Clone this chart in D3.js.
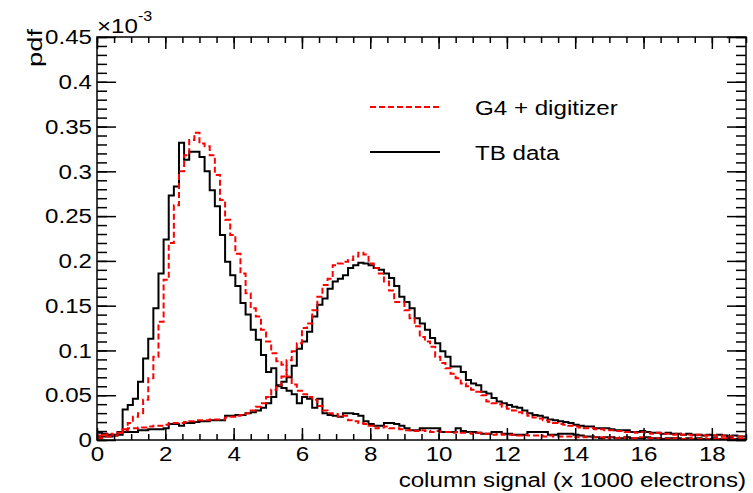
<!DOCTYPE html>
<html>
<head>
<meta charset="utf-8">
<script src="https://cdn.jsdelivr.net/npm/d3@7"></script>
<style>
  body { margin: 0; background: #fff; }
  svg { display: block; }
  text { font-family: "Liberation Sans", Arial, Helvetica, sans-serif; fill: #000; }
</style>
</head>
<body>
<div id="chart"></div>
<script>
// histogram bins: width 0.15 (x 1000 electrons), starting at 0
const binWidth = 0.15;

// TB data, first peak (pdf, x 1e-3)
const tbPeak1 = [
  0.008, 0.007, 0.006, 0.006, 0.009, 0.034, 0.039, 0.046, 0.065, 0.091,
  0.113, 0.147, 0.186, 0.224, 0.273, 0.283, 0.332, 0.313, 0.322, 0.322,
  0.316, 0.300, 0.279, 0.261, 0.229, 0.199, 0.184, 0.172, 0.153, 0.140,
  0.123, 0.112, 0.095, 0.076, 0.080, 0.061, 0.058, 0.055, 0.051, 0.041,
  0.048, 0.046, 0.036, 0.046, 0.030, 0.028, 0.027, 0.026, 0.030, 0.030,
  0.029, 0.027, 0.021, 0.018, 0.016, 0.016, 0.019, 0.019, 0.018, 0.016,
  0.013, 0.011, 0.011, 0.013, 0.013, 0.013, 0.013, 0.009, 0.009, 0.009,
  0.013, 0.010, 0.009, 0.009, 0.008, 0.007, 0.007, 0.009, 0.009, 0.007,
  0.007, 0.006, 0.006, 0.006, 0.009, 0.009, 0.009, 0.009, 0.006, 0.006,
  0.007, 0.007, 0.007, 0.006, 0.005, 0.004, 0.004, 0.003, 0.002, 0.003,
  0.003, 0.002, 0.002, 0.003, 0.002, 0.002, 0.002, 0.003, 0.002, 0.002,
  0.001, 0.002, 0.002, 0.002, 0.001, 0.002, 0.001, 0.002, 0.001, 0.001,
  0.002, 0.001, 0.001, 0.002, 0.001, 0.001, 0.001
];

// TB data, second peak
const tbPeak2 = [
  0.003, 0.004, 0.004, 0.005, 0.006, 0.009, 0.009, 0.009, 0.011, 0.011,
  0.012, 0.012, 0.012, 0.013, 0.018, 0.018, 0.016, 0.019, 0.019, 0.020,
  0.021, 0.021, 0.022, 0.022, 0.022, 0.027, 0.027, 0.028, 0.028, 0.030,
  0.031, 0.033, 0.036, 0.041, 0.048, 0.060, 0.065, 0.070, 0.083, 0.102,
  0.110, 0.121, 0.138, 0.151, 0.158, 0.169, 0.177, 0.180, 0.184, 0.192,
  0.195, 0.198, 0.197, 0.195, 0.192, 0.190, 0.186, 0.181, 0.172, 0.160,
  0.154, 0.147, 0.136, 0.130, 0.123, 0.114, 0.108, 0.099, 0.093, 0.082,
  0.082, 0.076, 0.067, 0.063, 0.061, 0.054, 0.052, 0.047, 0.043, 0.041,
  0.039, 0.037, 0.036, 0.033, 0.030, 0.028, 0.027, 0.025, 0.023, 0.022,
  0.021, 0.020, 0.019, 0.017, 0.016, 0.015, 0.015, 0.013, 0.013, 0.013,
  0.012, 0.011, 0.011, 0.011, 0.009, 0.009, 0.010, 0.009, 0.008, 0.008,
  0.007, 0.008, 0.007, 0.007, 0.006, 0.007, 0.006, 0.006, 0.005, 0.006,
  0.005, 0.006, 0.005, 0.004, 0.005, 0.004, 0.004
];

// G4 + digitizer, first peak
const g4Peak1 = [
  0.002, 0.006, 0.007, 0.006, 0.008, 0.012, 0.019, 0.026, 0.030, 0.045,
  0.069, 0.093, 0.132, 0.179, 0.220, 0.262, 0.300, 0.318, 0.335, 0.343,
  0.331, 0.328, 0.318, 0.296, 0.268, 0.246, 0.229, 0.208, 0.186, 0.164,
  0.147, 0.138, 0.123, 0.110, 0.097, 0.088, 0.084, 0.071, 0.062, 0.055,
  0.051, 0.048, 0.045, 0.038, 0.033, 0.030, 0.029, 0.026, 0.027, 0.022,
  0.021, 0.019, 0.018, 0.016, 0.013, 0.014, 0.015, 0.013, 0.013, 0.012,
  0.011, 0.011, 0.010, 0.011, 0.010, 0.009, 0.010, 0.009, 0.009, 0.008,
  0.009, 0.008, 0.008, 0.007, 0.008, 0.007, 0.007, 0.006, 0.007, 0.006,
  0.006, 0.006, 0.005, 0.006, 0.005, 0.005, 0.005, 0.004, 0.005, 0.004,
  0.004, 0.004, 0.004, 0.003, 0.004, 0.003, 0.003, 0.003, 0.003, 0.002,
  0.003, 0.002, 0.003, 0.002, 0.002, 0.002, 0.003, 0.002, 0.002, 0.002,
  0.002, 0.001, 0.002, 0.002, 0.001, 0.002, 0.001, 0.001, 0.002, 0.001,
  0.001, 0.001, 0.002, 0.001, 0.001, 0.001, 0.001
];

// G4 + digitizer, second peak
const g4Peak2 = [
  0.005, 0.004, 0.004, 0.005, 0.008, 0.011, 0.013, 0.013, 0.014, 0.014,
  0.015, 0.016, 0.016, 0.017, 0.019, 0.019, 0.019, 0.020, 0.021, 0.022,
  0.022, 0.022, 0.023, 0.023, 0.023, 0.025, 0.026, 0.027, 0.028, 0.030,
  0.033, 0.037, 0.041, 0.048, 0.056, 0.061, 0.071, 0.089, 0.099, 0.108,
  0.125, 0.130, 0.145, 0.160, 0.173, 0.180, 0.195, 0.197, 0.199, 0.201,
  0.205, 0.209, 0.207, 0.197, 0.192, 0.186, 0.177, 0.167, 0.154, 0.154,
  0.145, 0.136, 0.127, 0.115, 0.110, 0.104, 0.093, 0.086, 0.080, 0.074,
  0.069, 0.063, 0.060, 0.056, 0.054, 0.050, 0.043, 0.041, 0.040, 0.037,
  0.035, 0.033, 0.031, 0.030, 0.027, 0.025, 0.024, 0.022, 0.020, 0.019,
  0.018, 0.017, 0.016, 0.015, 0.014, 0.013, 0.013, 0.012, 0.012, 0.011,
  0.011, 0.010, 0.010, 0.009, 0.009, 0.008, 0.009, 0.008, 0.007, 0.008,
  0.007, 0.007, 0.006, 0.007, 0.006, 0.006, 0.005, 0.006, 0.005, 0.005,
  0.005, 0.004, 0.005, 0.004, 0.004, 0.004, 0.004
];

const xMajor = [0, 2, 4, 6, 8, 10, 12, 14, 16, 18];
const yMajor = [0, 0.05, 0.1, 0.15, 0.2, 0.25, 0.3, 0.35, 0.4, 0.45];

const legendItems = [
  { label: "G4 + digitizer", color: "#ff0000", dash: "6,3" },
  { label: "TB data", color: "#000", dash: null }
];

const W = 753, H = 493;
const frame = { left: 97, right: 746, top: 37, bottom: 440 };
const stretch = 1.15; // text in the original is a bit wide

const x = d3.scaleLinear().domain([0, 19]).range([frame.left, frame.right]);
const y = d3.scaleLinear().domain([0, 0.45]).range([frame.bottom, frame.top]);

const svg = d3.select("#chart").append("svg")
  .attr("width", W)
  .attr("height", H);

svg.append("defs").append("clipPath")
  .attr("id", "plotclip")
  .append("rect")
  .attr("x", frame.left)
  .attr("y", frame.top)
  .attr("width", frame.right - frame.left)
  .attr("height", frame.bottom - frame.top);

// histograms drawn as step outlines
function histPath(vals) {
  const pts = vals.map((v, i) => [i * binWidth, v]);
  pts.push([vals.length * binWidth, vals[vals.length - 1]]);
  return d3.line()
    .x(d => x(d[0]))
    .y(d => y(d[1]))
    .curve(d3.curveStepAfter)(pts);
}

const plot = svg.append("g").attr("clip-path", "url(#plotclip)");

[tbPeak1, tbPeak2].forEach(vals => {
  plot.append("path")
    .attr("d", histPath(vals))
    .attr("fill", "none")
    .attr("stroke", "#000")
    .attr("stroke-width", 2);
});

[g4Peak1, g4Peak2].forEach(vals => {
  plot.append("path")
    .attr("d", histPath(vals))
    .attr("fill", "none")
    .attr("stroke", "#ff0000")
    .attr("stroke-width", 2)
    .attr("stroke-dasharray", "6,3");
});

// axes, ROOT style: ticks inside on all four sides
const xMinor = d3.range(0, 19.01, 0.5);
const yMinor = d3.range(0, 46).map(i => i / 100);

function styleAxis(g) {
  g.select(".domain").remove();
  g.selectAll(".tick line").attr("stroke", "#000").attr("stroke-width", 1.5);
  g.selectAll("text")
    .attr("font-size", 21)
    .attr("font-family", null)
    .style("font-family", '"Liberation Sans", Arial, Helvetica, sans-serif');
}

// bottom
svg.append("g")
  .attr("transform", `translate(0,${frame.bottom})`)
  .call(d3.axisBottom(x).tickValues(xMinor).tickSize(-6).tickFormat(""))
  .call(styleAxis);
const xAxisG = svg.append("g")
  .attr("transform", `translate(0,${frame.bottom})`)
  .call(d3.axisBottom(x).tickValues(xMajor).tickSize(-12).tickPadding(0).tickFormat(d3.format("d")))
  .call(styleAxis);
xAxisG.selectAll("text")
  .attr("y", 21)
  .attr("dy", null)
  .attr("transform", `scale(${stretch},1)`);

// top
svg.append("g")
  .attr("transform", `translate(0,${frame.top})`)
  .call(d3.axisTop(x).tickValues(xMinor).tickSize(-6).tickFormat(""))
  .call(styleAxis);
svg.append("g")
  .attr("transform", `translate(0,${frame.top})`)
  .call(d3.axisTop(x).tickValues(xMajor).tickSize(-12).tickFormat(""))
  .call(styleAxis);

// left
svg.append("g")
  .attr("transform", `translate(${frame.left},0)`)
  .call(d3.axisLeft(y).tickValues(yMinor).tickSize(-10).tickFormat(""))
  .call(styleAxis);
const yAxisG = svg.append("g")
  .attr("transform", `translate(${frame.left},0)`)
  .call(d3.axisLeft(y).tickValues(yMajor).tickSize(-19).tickPadding(5)
    .tickFormat(d => String(+d.toFixed(2))))
  .call(styleAxis);
yAxisG.selectAll("text")
  .attr("transform", `scale(${stretch},1)`)
  .attr("x", -5 / stretch);

// right
svg.append("g")
  .attr("transform", `translate(${frame.right},0)`)
  .call(d3.axisRight(y).tickValues(yMinor).tickSize(-10).tickFormat(""))
  .call(styleAxis);
svg.append("g")
  .attr("transform", `translate(${frame.right},0)`)
  .call(d3.axisRight(y).tickValues(yMajor).tickSize(-19).tickFormat(""))
  .call(styleAxis);

// frame
svg.append("rect")
  .attr("x", frame.left)
  .attr("y", frame.top)
  .attr("width", frame.right - frame.left)
  .attr("height", frame.bottom - frame.top)
  .attr("fill", "none")
  .attr("stroke", "#000")
  .attr("stroke-width", 1.5);

// text helper with horizontal stretch
function label(px, py, txt, size, anchor) {
  return svg.append("text")
    .attr("transform", `translate(${px},${py}) scale(${stretch},1)`)
    .attr("font-size", size)
    .attr("text-anchor", anchor || "start")
    .text(txt);
}

// axis titles
label(frame.right, 487, "column signal (x 1000 electrons)", 21, "end");

svg.append("text")
  .attr("transform", `translate(42,${frame.top - 8}) rotate(-90) scale(1.3,1)`)
  .attr("font-size", 21)
  .attr("text-anchor", "end")
  .text("pdf");

// exponent label
label(frame.left, 33, "\u00d710", 21, "start");
label(frame.left + 41, 21, "-3", 14, "start");

// legend
const legY = [107, 152];
legendItems.forEach((d, i) => {
  svg.append("line")
    .attr("x1", 370).attr("x2", 440)
    .attr("y1", legY[i]).attr("y2", legY[i])
    .attr("stroke", d.color)
    .attr("stroke-width", 2)
    .attr("stroke-dasharray", d.dash);
  label(475, legY[i] + 8, d.label, 21, "start");
});
</script>
</body>
</html>
